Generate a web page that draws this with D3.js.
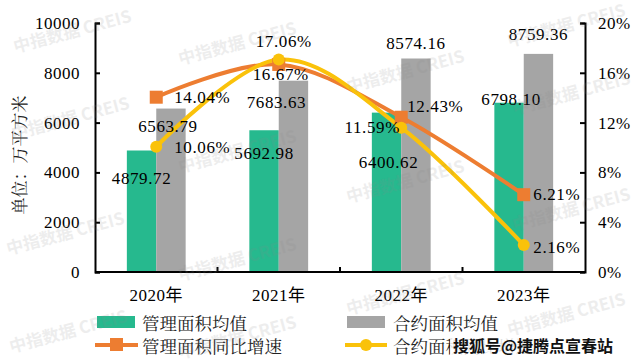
<!DOCTYPE html>
<html><head><meta charset="utf-8">
<script src="https://cdn.jsdelivr.net/npm/d3@7"></script>
<style>
html,body{margin:0;padding:0;background:#fff;}
svg{display:block;}
text{font-family:"Liberation Serif","Noto Sans CJK SC",serif;}
</style></head>
<body><svg id="c" width="638" height="361"></svg>
<script>
// ---- data ----
const categories = ["2020年","2021年","2022年","2023年"];
const mgmtArea = [4879.72, 5692.98, 6400.62, 6798.10];      // 管理面积均值
const contractArea = [6563.79, 7683.63, 8574.16, 8759.36];  // 合约面积均值
const mgmtGrowth = [14.04, 16.67, 12.43, 6.21];             // 管理面积同比增速 (%)
const contractGrowth = [10.06, 17.06, 11.59, 2.16];         // 合约面积同比增速 (%)
const leftTicks = [0, 2000, 4000, 6000, 8000, 10000];
const rightTicks = [0, 4, 8, 12, 16, 20];
const seriesNames = ["管理面积均值","合约面积均值","管理面积同比增速","合约面积同比增速"];
const yTitle = "单位：万平方米";

// label offsets (layout only)
const offMgmt = [[0,28],[0,23],[2,50],[2,-3]];
const offContract = [[-3,18],[-17,22],[0,-15],[0,-19]];
const offMgmtG = [[46,0],[2,10],[34,-11],[33,0]];
const offContractG = [[46,1],[5,-18],[-29,0],[33,2]];

const C = {green:"#26B98E", gray:"#A5A5A5", orange:"#ED7D31", yellow:"#FAC20A"};
const svg = d3.select("#c");
const L = 95, R = 585, T = 23, B = 272;

const x = d3.scaleBand().domain(categories).range([L, R]).padding(0);
const y = d3.scaleLinear().domain([0, 10000]).range([B, T]);
const y2 = d3.scaleLinear().domain([0, 20]).range([B, T]);
const bw = x.bandwidth() * 0.24;
const cx = d => x(d) + x.bandwidth() / 2;

// bars
svg.append("g").selectAll("rect").data(categories).join("rect")
  .attr("x", d => cx(d) - bw).attr("width", bw)
  .attr("y", (d,i) => y(mgmtArea[i])).attr("height", (d,i) => B - y(mgmtArea[i]))
  .attr("fill", C.green);
svg.append("g").selectAll("rect").data(categories).join("rect")
  .attr("x", d => cx(d)).attr("width", bw)
  .attr("y", (d,i) => y(contractArea[i])).attr("height", (d,i) => B - y(contractArea[i]))
  .attr("fill", C.gray);

// axes
const gl = svg.append("g").attr("transform", `translate(${L},0)`)
  .call(d3.axisLeft(y).tickValues(leftTicks).tickSize(-5).tickPadding(15).tickFormat(d3.format("d")));
const gr = svg.append("g").attr("transform", `translate(${R},0)`)
  .call(d3.axisRight(y2).tickValues(rightTicks).tickSize(-5).tickPadding(13).tickFormat(d => d + "%"));
const gb = svg.append("g").attr("transform", `translate(0,${B})`)
  .call(d3.axisBottom(x).tickSize(0).tickPadding(17));
gb.selectAll(".tick").attr("transform", d => `translate(${cx(d)},0)`);
svg.append("g").selectAll("line").data(categories.slice(1)).join("line")
  .attr("x1", d => x(d)).attr("x2", d => x(d)).attr("y1", B).attr("y2", B - 5)
  .attr("stroke", "#000").attr("stroke-width", 2);
[gl, gr, gb].forEach(g => {
  g.selectAll(".domain").attr("stroke", "#000").attr("stroke-width", 2);
  g.selectAll(".tick line").attr("stroke", "#000").attr("stroke-width", 2);
  g.selectAll(".tick text").attr("fill", "#000").style("font-size", "17px")
   .style("letter-spacing", "0.5px")
   .style("font-family", '"Liberation Serif","Noto Sans CJK SC",serif');
});
gb.select(".domain").attr("d", `M${L},0H${R}`);

// y title
svg.append("text").attr("transform", "translate(18,155) rotate(-90)")
  .attr("text-anchor", "middle").attr("dominant-baseline", "central")
  .style("font-size", "17px").attr("fill", "#222")
  .style("font-family", '"Noto Serif CJK SC","Noto Sans CJK SC",serif').text(yTitle);

// lines
const curve = d3.curveCatmullRom.alpha(0);
const lineO = d3.line().x((d,i) => cx(categories[i])).y(d => y2(d)).curve(curve);
svg.append("path").attr("d", lineO(mgmtGrowth)).attr("fill", "none")
  .attr("stroke", C.orange).attr("stroke-width", 4);
svg.append("path").attr("d", lineO(contractGrowth)).attr("fill", "none")
  .attr("stroke", C.yellow).attr("stroke-width", 4);
svg.append("g").selectAll("rect").data(mgmtGrowth).join("rect")
  .attr("x", (d,i) => cx(categories[i]) - 6.5).attr("y", d => y2(d) - 6.5)
  .attr("width", 13).attr("height", 13).attr("fill", C.orange);
svg.append("g").selectAll("circle").data(contractGrowth).join("circle")
  .attr("cx", (d,i) => cx(categories[i])).attr("cy", d => y2(d)).attr("r", 6)
  .attr("fill", C.yellow);

// data labels
function labels(vals, px, py, off, fmt) {
  svg.append("g").selectAll("text").data(vals).join("text")
    .attr("x", (d,i) => px(i) + off[i][0]).attr("y", (d,i) => py(d) + off[i][1])
    .attr("text-anchor", "middle").attr("dominant-baseline", "central")
    .style("font-size", "17px").style("letter-spacing", "0.6px").attr("fill", "#000").text(fmt);
}
labels(mgmtArea, i => cx(categories[i]) - bw/2, d => y(d), offMgmt, d => d.toFixed(2));
labels(contractArea, i => cx(categories[i]) + bw/2, d => y(d), offContract, d => d.toFixed(2));
labels(mgmtGrowth, i => cx(categories[i]), d => y2(d), offMgmtG, d => d.toFixed(2) + "%");
labels(contractGrowth, i => cx(categories[i]), d => y2(d), offContractG, d => d.toFixed(2) + "%");

// legend
const lg = svg.append("g");
lg.append("rect").attr("x", 97).attr("y", 316).attr("width", 38).attr("height", 12).attr("fill", C.green);
lg.append("rect").attr("x", 347).attr("y", 316).attr("width", 38).attr("height", 12).attr("fill", C.gray);
lg.append("line").attr("x1", 95).attr("x2", 138).attr("y1", 345).attr("y2", 345).attr("stroke", C.orange).attr("stroke-width", 4);
lg.append("rect").attr("x", 110).attr("y", 338).attr("width", 13).attr("height", 13).attr("fill", C.orange);
lg.append("line").attr("x1", 345).attr("x2", 387).attr("y1", 345).attr("y2", 345).attr("stroke", C.yellow).attr("stroke-width", 4);
lg.append("circle").attr("cx", 366).attr("cy", 345).attr("r", 6).attr("fill", C.yellow);
const legText = [[142,322],[393,322],[142,345],[393,345]];
lg.selectAll("text.lt").data([0,1,2,3]).join("text").attr("class","lt")
  .attr("x", i => legText[i][0]).attr("y", i => legText[i][1])
  .attr("dominant-baseline", "central").style("font-size", "17.5px").attr("fill", "#222")
  .style("font-family", '"Noto Serif CJK SC","Noto Sans CJK SC",serif')
  .text(i => seriesNames[i]);

// watermarks
const wm = [[72,30],[237,42],[405,70],[566,24],[70,117],[237,150],[405,180],[571,92],
            [65,232],[237,258],[405,292],[571,208],[68,330],[237,336],[566,313]];
svg.append("g").selectAll("text").data(wm).join("text")
  .attr("transform", d => `translate(${d[0]},${d[1]}) rotate(-15)`)
  .attr("text-anchor", "middle").attr("dominant-baseline", "central")
  .style("font-family", '"Noto Sans CJK SC",sans-serif').style("font-weight", "bold")
  .style("font-size", "17px").attr("fill", "#888").attr("opacity", 0.14)
  .text("中指数据  CREIS");

// overlay source tag
svg.append("rect").attr("x", 450).attr("y", 335).attr("width", 176).attr("height", 21).attr("fill", "#fff").attr("opacity", 0.85);
svg.append("text").attr("x", 453).attr("y", 345).attr("dominant-baseline", "central")
  .style("font-family", '"Noto Sans CJK SC",sans-serif').style("font-weight", "bold")
  .style("font-size", "16px").attr("fill", "#111").text("搜狐号@捷腾点宣春站");
</script></body></html>
